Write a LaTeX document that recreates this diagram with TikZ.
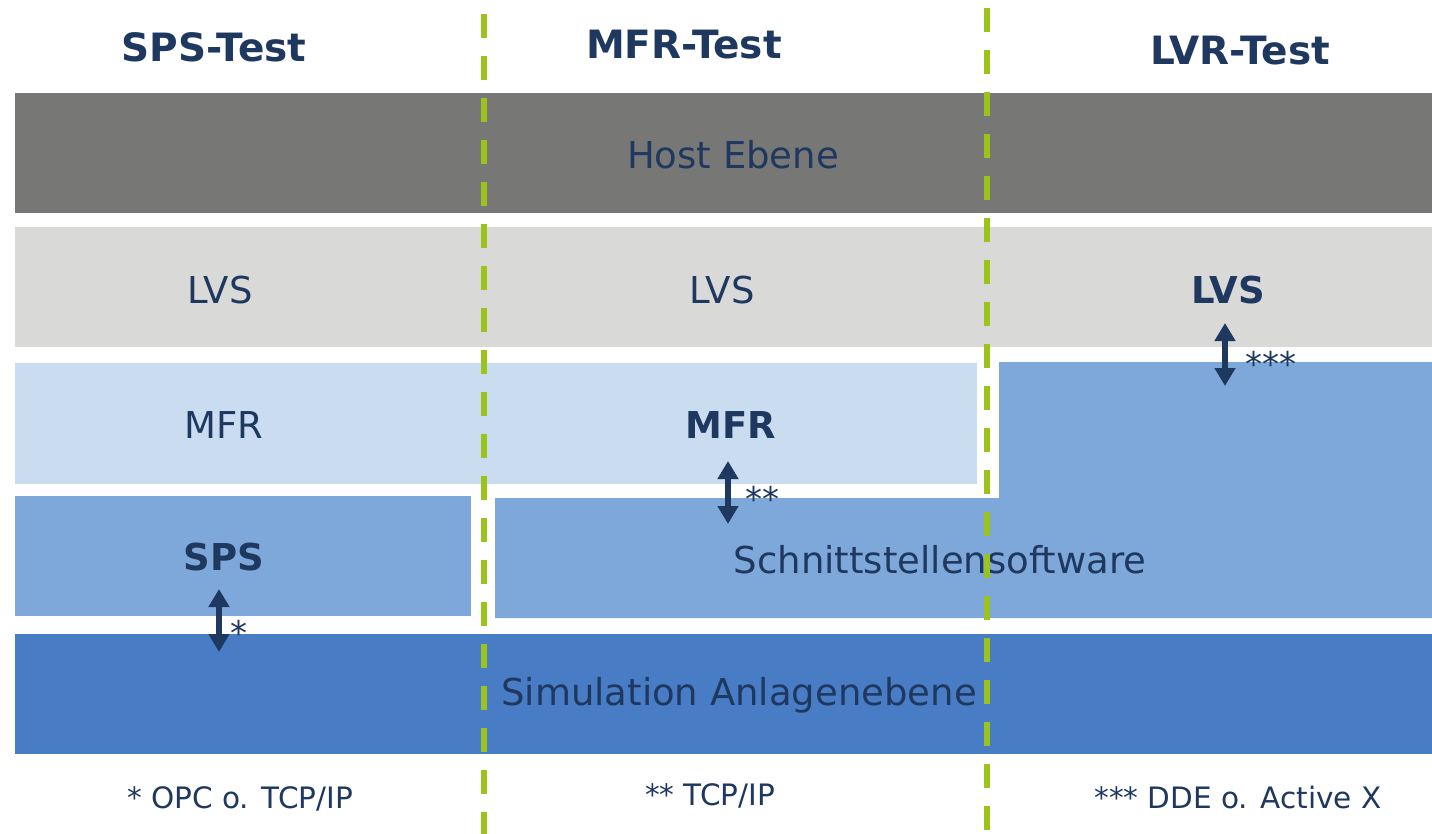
\documentclass[tikz,border=0pt]{standalone}
\usepackage{fontspec}
\setmainfont{DejaVu Sans}
\usetikzlibrary{arrows.meta}
\definecolor{navy}{HTML}{1F3860}
\definecolor{hostgray}{HTML}{777775}
\definecolor{lvsgray}{HTML}{D9D9D8}
\definecolor{mfrblue}{HTML}{C9DCF0}
\definecolor{midblue}{HTML}{7DA8D9}
\definecolor{simblue}{HTML}{487DC6}
\definecolor{lime}{HTML}{9BC31C}
\tikzset{
  bar/.style={fill=#1, draw=none},
  lbl/.style={text=navy, font=\fontsize{37}{40}\selectfont, inner sep=0pt},
  blbl/.style={text=navy, font=\fontsize{37}{40}\selectfont\bfseries, inner sep=0pt},
  title/.style={text=navy, font=\fontsize{39}{42}\selectfont\bfseries, inner sep=0pt},
  note/.style={text=navy, font=\fontsize{29.5}{32}\selectfont, inner sep=0pt},
  stars/.style={text=navy, font=\fontsize{34}{36}\selectfont, inner sep=0pt, anchor=west},
  sep/.style={draw=lime, line width=6pt, dash pattern=on 24pt off 18pt},
  link/.style={draw=navy, line width=6pt, {Triangle[width=20pt,length=18pt]}-{Triangle[width=20pt,length=18pt]}, shorten <=-1pt, shorten >=-1pt}
}
\begin{document}
\begin{tikzpicture}[x=1pt,y=-1pt]
\useasboundingbox (0,0) rectangle (1432,834);
\fill[white] (0,0) rectangle (1432,834);
% bars
\path[bar=hostgray] (15,93) rectangle (1432,213);
\path[bar=lvsgray] (15,227) rectangle (1432,347);
\path[bar=mfrblue] (15,363) rectangle (977,484);
\path[bar=midblue] (15,496) rectangle (471,616);
\path[bar=midblue] (495,498) -- (999,498) -- (999,362) -- (1432,362) -- (1432,618) -- (495,618) -- cycle;
\path[bar=simblue] (15,634) rectangle (1432,754);
% titles
\node[title] (t1) at (214,47) {SPS-Test};
\node[title] (t2) at (684,45) {MFR-Test};
\node[title] (t3) at (1240,51) {LVR-Test};
% labels
\node[lbl] (host) at (733,155) {Host Ebene};
\node[lbl] (lvs1) at (220,290) {LVS};
\node[lbl] (lvs2) at (722,290) {LVS};
\node[blbl] (lvs3) at (1228,290) {LVS};
\node[lbl] (mfr1) at (224,425) {MFR};
\node[blbl] (mfr2) at (731,425) {MFR};
\node[blbl] (sps) at (224,557) {SPS};
\node[lbl] (schnitt) at (940,560) {Schnittstellensoftware};
\node[lbl] (sim) at (739,695) {Simulation Anlagenebene};
% arrows
\coordinate (a1t) at (219,590); \coordinate (a1b) at (219,651);
\coordinate (a2t) at (728,462); \coordinate (a2b) at (728,523);
\coordinate (a3t) at (1225,324); \coordinate (a3b) at (1225,385);
\draw[link] (a1t) -- (a1b);
\draw[link] (a2t) -- (a2b);
\draw[link] (a3t) -- (a3b);
\node[stars] (s1) at (230,633) {*};
\node[stars] (s2) at (745,499) {**};
\node[stars] (s3) at (1245,364) {***};
% footnotes
\node[note] (f1) at (240,799) {* OPC o. TCP/IP};
\node[note] (f2) at (710,796) {** TCP/IP};
\node[note] (f3) at (1238,797) {*** DDE o. Active X};
% separators
\coordinate (d1t) at (484,14); \coordinate (d1b) at (484,834);
\coordinate (d2t) at (987,8); \coordinate (d2b) at (987,834);
\draw[sep] (d1t) -- (d1b);
\draw[sep] (d2t) -- (d2b);
\end{tikzpicture}
\end{document}
